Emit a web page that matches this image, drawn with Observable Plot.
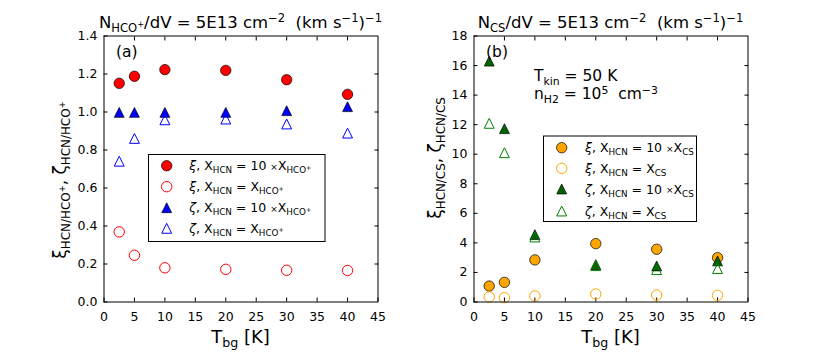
<!DOCTYPE html>
<html><head><meta charset="utf-8">
<script src="https://cdn.jsdelivr.net/npm/d3@7"></script>
<script src="https://cdn.jsdelivr.net/npm/@observablehq/plot@0.6"></script>
<style>
body{margin:0;background:#fff;}
#wrap{position:relative;width:830px;height:356px;font-family:"DejaVu Sans",sans-serif;}
#wrap svg{position:absolute;top:0;overflow:visible;}
text{white-space:pre;}
</style></head><body><div id="wrap"></div>
<script>
// ---- data ----
const tbg = [2.5, 5, 10, 20, 30, 40];
// panel (a): HCN/HCO+
const xiHco10   = [1.151, 1.188, 1.223, 1.219, 1.170, 1.093];
const xiHco1    = [0.369, 0.246, 0.180, 0.172, 0.167, 0.166];
const zetaHco10 = [0.998, 0.998, 0.998, 0.998, 1.007, 1.028];
const zetaHco1  = [0.741, 0.861, 0.959, 0.963, 0.937, 0.889];
// panel (b): HCN/CS
const xiCs10   = [1.08, 1.33, 2.85, 3.95, 3.57, 3.00];
const xiCs1    = [0.34, 0.29, 0.41, 0.54, 0.47, 0.45];
const zetaCs10 = [16.3, 11.73, 4.56, 2.53, 2.44, 2.78];
const zetaCs1  = [12.09, 10.1, 4.40, 2.46, 2.19, 2.26];
// ticks
const xTicks  = [0, 5, 10, 15, 20, 25, 30, 35, 40, 45];
const yTicksA = [0, 0.2, 0.4, 0.6, 0.8, 1.0, 1.2, 1.4];
const yTicksB = [0, 2, 4, 6, 8, 10, 12, 14, 16, 18];

// ---- styles ----
const tri = {draw(ctx, size){ const r = Math.sqrt(size/Math.PI)*0.95; ctx.moveTo(0,-r); ctx.lineTo(r,r); ctx.lineTo(-r,r); ctx.closePath(); }};
const circ = {draw(ctx, size){ const r = Math.sqrt(size/Math.PI); ctx.moveTo(r,0); ctx.arc(0,0,r,0,2*Math.PI); }};
const R = 5.2;
const seriesA = [
  {values: xiHco10,   sym: circ, fill: "#ff0000", stroke: "#000", sw: 0.7},
  {values: xiHco1,    sym: circ, fill: "none",    stroke: "#ff0000", sw: 1},
  {values: zetaHco10, sym: tri,  fill: "#0000ff", stroke: "#000", sw: 0.7},
  {values: zetaHco1,  sym: tri,  fill: "none",    stroke: "#0000ff", sw: 1}
];
const seriesB = [
  {values: xiCs10,   sym: circ, fill: "#ffa500", stroke: "#000", sw: 0.7},
  {values: xiCs1,    sym: circ, fill: "none",    stroke: "#ffa500", sw: 1},
  {values: zetaCs10, sym: tri,  fill: "#006400", stroke: "#000", sw: 0.7},
  {values: zetaCs1,  sym: tri,  fill: "none",    stroke: "#008000", sw: 1}
];

const FONT = "DejaVu Sans";

function panel(series, yDomain, yTicks, yFmt, mL, mR){
  const marks = [
    Plot.axisX(xTicks, {anchor: "bottom", tickSize: -4, tickPadding: 14, fontSize: 12.5, label: null}),
    Plot.axisX(xTicks.slice(1, -1), {anchor: "top", tickSize: -4, tickFormat: () => "", label: null}),
    Plot.axisY(yTicks, {anchor: "left", tickSize: -4, tickPadding: 10.5, fontSize: 12.5, tickFormat: yFmt, label: null}),
    Plot.axisY(yTicks.slice(1, -1), {anchor: "right", tickSize: -4, tickFormat: () => "", label: null})
  ];
  series.forEach(s => {
    marks.push(Plot.dot(tbg.map((t, j) => ({t, v: s.values[j]})), {
      x: "t", y: "v", r: R, symbol: s.sym, fill: s.fill, stroke: s.stroke, strokeWidth: s.sw
    }));
  });
  marks.push(Plot.frame({stroke: "#000", strokeWidth: 1}));
  return Plot.plot({
    width: 415, height: 356,
    marginLeft: mL, marginRight: mR, marginTop: 35.5, marginBottom: 54.5,
    style: {fontFamily: FONT, color: "#000", background: "transparent"},
    x: {domain: [0, 45]},
    y: {domain: yDomain},
    marks
  });
}

const wrap = document.getElementById("wrap");
const svgA = panel(seriesA, [0, 1.4], yTicksA, d3.format(".1f"), 103.5, 37.5);
const svgB = panel(seriesB, [0, 18], yTicksB, d3.format("d"), 58.5, 82.5);
svgA.style.left = "0px"; svgB.style.left = "415px";
wrap.appendChild(svgA); wrap.appendChild(svgB);

// ---- rich text helper ----
function rich(g, x, y, parts, fs, opts = {}){
  const t = g.append("text").attr("x", x).attr("y", y)
    .attr("font-family", FONT).attr("font-size", fs).attr("fill", "#000")
    .attr("text-anchor", opts.anchor || "start");
  if (opts.rotate) t.attr("transform", `rotate(${opts.rotate},${x},${y})`);
  let cur = 0;
  const supShift = opts.sup != null ? opts.sup : 0.38;
  parts.forEach(([s, k]) => {
    let size = fs, shift = 0;
    if (k === "sub") { size = fs*0.7; shift = fs*0.24; }
    else if (k === "sup") { size = fs*0.7; shift = -fs*supShift; }
    else if (k === "ss") { size = fs*0.5; shift = -fs*0.05; }
    else if (k === "x") { size = fs*0.72; shift = -fs*0.02; }
    const sp = t.append("tspan").attr("font-size", size).attr("dy", shift - cur).text(s);
    if (k === "it") sp.attr("font-style", "italic");
    cur = shift;
  });
  return t;
}

const gA = d3.select(svgA).append("g");
const gB = d3.select(svgB).append("g");

// titles
rich(gA, 240.5, 28.3, [["N"],["HCO","sub"],["+","ss"],["/dV = 5E13 cm"],["−2","sup"],["  (km s"],["−1","sup"],[")"],["−1","sup"]], 16.5, {anchor: "middle"});
rich(gB, 195.5, 28.3, [["N"],["CS","sub"],["/dV = 5E13 cm"],["−2","sup"],["  (km s"],["−1","sup"],[")"],["−1","sup"]], 16.5, {anchor: "middle"});

// x labels
rich(gA, 240.5, 343, [["T"],["bg","sub"],[" [K]"]], 18, {anchor: "middle"});
rich(gB, 195.5, 343, [["T"],["bg","sub"],[" [K]"]], 18, {anchor: "middle"});

// y labels
rich(gA, 66, 180, [["ξ"],["HCN/HCO","sub"],["+","ss"],[", ζ"],["HCN/HCO","sub"],["+","ss"]], 17, {anchor: "middle", rotate: -90});
rich(gB, 26, 158, [["ξ"],["HCN/CS","sub"],[", ζ"],["HCN/CS","sub"]], 17, {anchor: "middle", rotate: -90});

// panel tags
rich(gA, 116, 56.5, [["(a)"]], 15.5);
rich(gB, 71, 56.5, [["(b)"]], 15.5);

// annotation panel b
rich(gB, 119, 81, [["T"],["kin","sub"],[" = 50 K"]], 15.5);
rich(gB, 119, 99, [["n"],["H2","sub"],[" = 10"],["5","sup"],["  cm"],["−3","sup"]], 15.5, {sup: 0.32});

// legends
function legend(g, x0, y0, w, h, rowsY, mx, tx, series, labels){
  g.append("rect").attr("x", x0).attr("y", y0).attr("width", w).attr("height", h)
    .attr("fill", "#fff").attr("stroke", "#000").attr("stroke-width", 1);
  series.forEach((s, i) => {
    const p = d3.path(); s.sym.draw(p, Math.PI*R*R);
    g.append("path").attr("d", p.toString()).attr("transform", `translate(${mx},${rowsY[i]})`)
      .attr("fill", s.fill).attr("stroke", s.stroke).attr("stroke-width", s.sw);
    rich(g, tx, rowsY[i] + 4.6, labels[i], 12.5);
  });
}
const labA = [
  [["ξ","it"],[", X"],["HCN","sub"],[" = 10 "],["×","x"],["X"],["HCO","sub"],["+","ss"]],
  [["ξ","it"],[", X"],["HCN","sub"],[" = X"],["HCO","sub"],["+","ss"]],
  [["ζ","it"],[", X"],["HCN","sub"],[" = 10 "],["×","x"],["X"],["HCO","sub"],["+","ss"]],
  [["ζ","it"],[", X"],["HCN","sub"],[" = X"],["HCO","sub"],["+","ss"]]
];
const labB = [
  [["ξ","it"],[", X"],["HCN","sub"],[" = 10 "],["×","x"],["X"],["CS","sub"]],
  [["ξ","it"],[", X"],["HCN","sub"],[" = X"],["CS","sub"]],
  [["ζ","it"],[", X"],["HCN","sub"],[" = 10 "],["×","x"],["X"],["CS","sub"]],
  [["ζ","it"],[", X"],["HCN","sub"],[" = X"],["CS","sub"]]
];
legend(gA, 148.5, 154.5, 176.5, 87, [165.7, 186.7, 207.7, 228.3], 166.7, 189.3, seriesA, labA);
legend(gB, 128.5, 136, 153, 85.5, [147.7, 168.3, 189, 211], 146.7, 170, seriesB, labB);
</script></body></html>
